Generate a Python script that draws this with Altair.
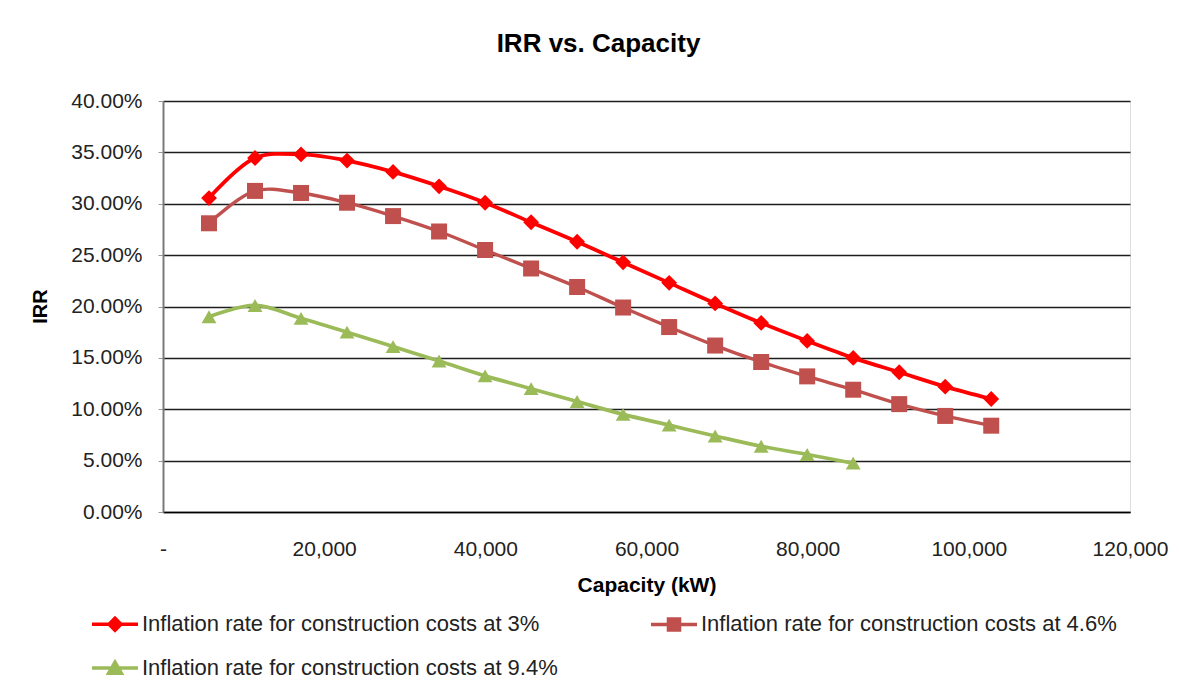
import altair as alt
import pandas as pd

# ---- data ----
capacity = [5710, 11420, 17130, 22840, 28550, 34260, 39970, 45680, 51390,
            57100, 62810, 68520, 74230, 79940, 85650, 91360, 97070, 102780]
irr_3 = [30.55, 34.45, 34.8, 34.2, 33.1, 31.7, 30.1, 28.2, 26.3,
         24.3, 22.3, 20.3, 18.4, 16.65, 15.0, 13.6, 12.2, 11.0]
irr_46 = [28.1, 31.25, 31.05, 30.1, 28.8, 27.3, 25.5, 23.7, 21.9,
          19.9, 18.0, 16.2, 14.6, 13.2, 11.9, 10.5, 9.35, 8.4]
irr_94 = [19.0, 20.1, 18.85, 17.5, 16.1, 14.7, 13.25, 12.0, 10.75,
          9.5, 8.45, 7.4, 6.4, 5.6, 4.75]
series_names = [
    "Inflation rate for construction costs at 3%",
    "Inflation rate for construction costs at 4.6%",
    "Inflation rate for construction costs at 9.4%",
]
x_ticks = [0, 20000, 40000, 60000, 80000, 100000, 120000]
y_ticks = [0, 5, 10, 15, 20, 25, 30, 35, 40]

# ---- styles ----
colors = ["#FF0000", "#C0504D", "#9BBB59"]
shapes = ["diamond", "square", "triangle-up"]
marker_sizes = [250, 256, 220]
line_widths = [3.8, 3.4, 3.7]
legend_paths = [
    "M-2,0H2M0,-0.52L0.52,0L0,0.52L-0.52,0Z",
    "M-2,0H2M-0.48,-0.48H0.48V0.48H-0.48Z",
    "M-2,0H2M0,-0.5L0.55,0.45H-0.55Z",
]
FONT = "Liberation Sans"

rows = []
for name, vals in zip(series_names, [irr_3, irr_46, irr_94]):
    for c, v in zip(capacity, vals):
        rows.append({"series": name, "capacity": c, "irr": v})
df = pd.DataFrame(rows)

x_enc = alt.X(
    "capacity:Q",
    scale=alt.Scale(domain=[0, 120000], nice=False, zero=False),
    axis=alt.Axis(
        values=x_ticks,
        labelExpr="datum.value == 0 ? '-' : format(datum.value, ',')",
        title="Capacity (kW)",
        grid=False,
        ticks=False,
        tickSize=0,
        labelPadding=26,
        titlePadding=15,
        labelFlush=False,
        labelOverlap=False,
        domainColor="#000000",
        domainWidth=1.5,
        labelFontSize=21,
        labelColor="#222222",
        titleFontSize=21,
        titleFontWeight="bold",
        titleColor="#000000",
        labelFont=FONT,
        titleFont=FONT,
    ),
)
y_enc = alt.Y(
    "irr:Q",
    scale=alt.Scale(domain=[0, 40], nice=False),
    axis=alt.Axis(
        values=y_ticks,
        labelExpr="format(datum.value, '.2f') + '%'",
        title="IRR",
        grid=True,
        gridColor="#1e1e1e",
        gridWidth=1.5,
        ticks=True,
        tickSize=5,
        tickColor="#9a9a9a",
        labelPadding=16,
        domainColor="#7a7a7a",
        domainWidth=2,
        labelFontSize=21,
        labelColor="#222222",
        titleFontSize=20,
        titleFontWeight="bold",
        titleColor="#000000",
        titleX=-117,
        titleY=205,
        titleBaseline="alphabetic",
        titleAlign="center",
        labelFont=FONT,
        titleFont=FONT,
    ),
)

layers = []
for i, name in enumerate(series_names):
    base = alt.Chart(df).transform_filter(alt.datum.series == name)
    line = base.mark_line(
        color=colors[i], strokeWidth=line_widths[i], interpolate="catmull-rom"
    ).encode(x=x_enc, y=y_enc)
    pts = base.mark_point(
        shape=shapes[i], size=marker_sizes[i], filled=True,
        color=colors[i], opacity=1
    ).encode(x=x_enc, y=y_enc)
    layers += [line, pts]

legend_def = alt.Legend(
    title=None,
    orient="none",
    legendX=-61.5,
    legendY=509.5,
    direction="horizontal",
    columns=2,
    padding=0,
    labelFontSize=22,
    labelFont=FONT,
    labelColor="#222222",
    labelLimit=1000,
    labelOffset=13.5,
    symbolSize=529,
    symbolStrokeWidth=3.5,
    rowPadding=17,
    columnPadding=85,
)
leg_scale_color = alt.Scale(domain=series_names, range=colors)
# legend-only layer: its points sit off the canvas, only the legend is seen
legend_layer = alt.Chart(df).mark_point(filled=True, opacity=1).encode(
    x=alt.value(-3000),
    y=alt.value(200),
    fill=alt.Fill("series:N", scale=leg_scale_color, legend=legend_def),
    stroke=alt.Stroke("series:N", scale=leg_scale_color, legend=legend_def),
    shape=alt.Shape("series:N", scale=alt.Scale(domain=series_names, range=legend_paths),
                    legend=legend_def),
)
layers.append(legend_layer)

chart = alt.layer(*layers).properties(
    width=967,
    height=411,
    title=alt.TitleParams(
        "IRR vs. Capacity",
        fontSize=26,
        font=FONT,
        fontWeight="bold",
        color="#000000",
        anchor="middle",
        frame="group",
        dx=-48,
        offset=33,
    ),
    autosize=alt.AutoSizeParams(type="none"),
    padding={"left": 155, "top": 93, "right": 41, "bottom": 167},
).configure_view(
    stroke="#A6A6A6", strokeWidth=2
).configure(
    background="#FFFFFF", font=FONT
)

chart.save("out.html", embed_options={"renderer": "svg", "actions": False})
